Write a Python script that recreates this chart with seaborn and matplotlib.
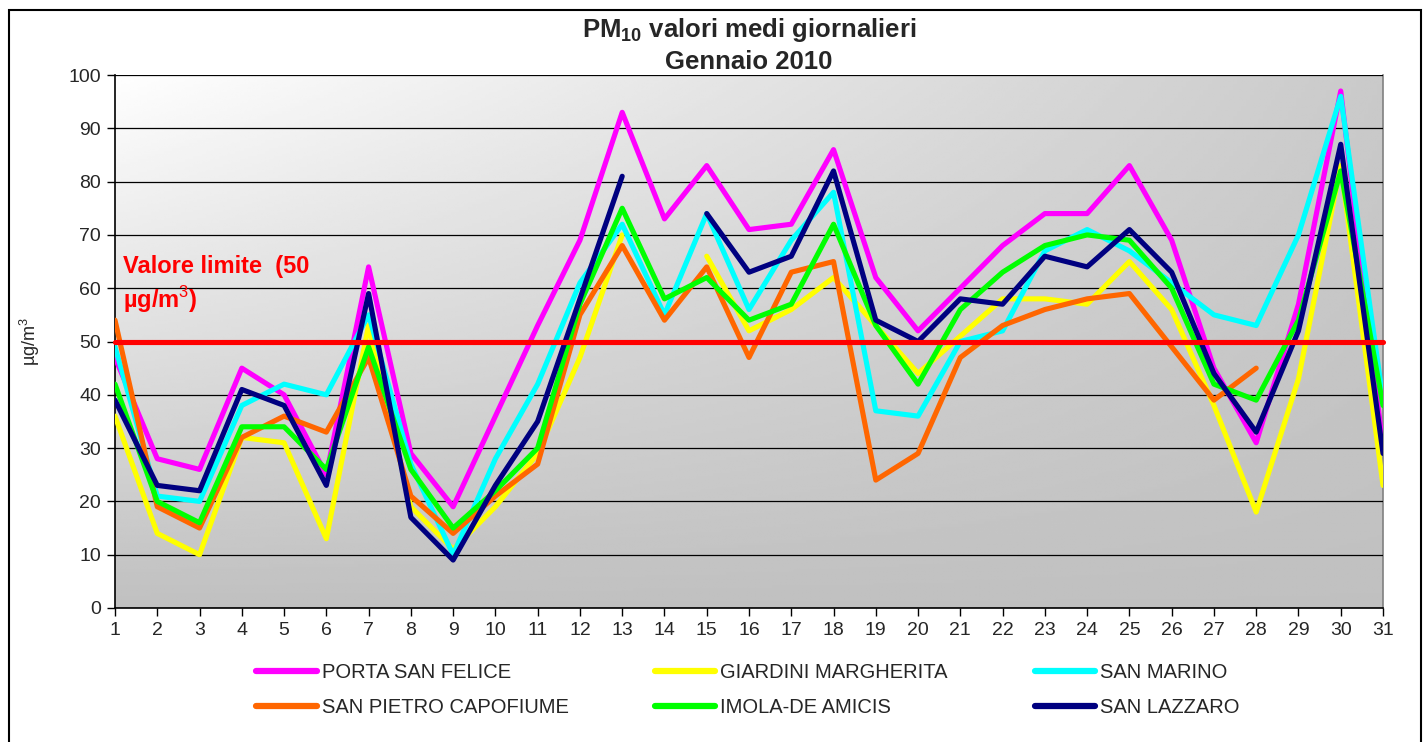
import numpy as np
import pandas as pd
import seaborn as sns
import matplotlib.pyplot as plt
from matplotlib.lines import Line2D
from matplotlib.patches import Rectangle

nan = np.nan

# Giorni di gennaio 2010
days = list(range(1, 32))

# PM10 valori medi giornalieri (ug/m3) per stazione
porta_san_felice = [47, 28, 26, 45, 40, 25, 64, 29, 19, 36, 53, 69, 93, 73, 83, 71,
                    72, 86, 62, 52, 60, 68, 74, 74, 83, 69, 45, 31, 57, 97, 30]
giardini_margherita = [36, 14, 10, 32, 31, 13, 53, 19, 11, 19, 29, 47, 70, nan, 66, 52,
                       56, 62, 53, 44, 51, 58, 58, 57, 65, 56, 38, 18, 43, 83, 23]
san_marino = [49, 21, 20, 38, 42, 40, 55, 27, 10, 28, 42, 61, 72, 55, 74, 56,
              69, 78, 37, 36, 50, 52, 67, 71, 67, 61, 55, 53, 70, 96, 39]
san_pietro_capofiume = [54, 19, 15, 32, 36, 33, 47, 21, 14, 21, 27, 55, 68, 54, 64, 47,
                        63, 65, 24, 29, 47, 53, 56, 58, 59, 49, 39, 45, nan, nan, nan]
imola_de_amicis = [42, 20, 16, 34, 34, 26, 49, 26, 15, 22, 30, 57, 75, 58, 62, 54,
                   57, 72, 53, 42, 56, 63, 68, 70, 69, 60, 42, 39, 54, 82, 38]
san_lazzaro = [39, 23, 22, 41, 38, 23, 59, 17, 9, 23, 35, 58, 81, nan, 74, 63,
               66, 82, 54, 50, 58, 57, 66, 64, 71, 63, 44, 33, 52, 87, 29]

stations = ["PORTA SAN FELICE", "GIARDINI MARGHERITA", "SAN MARINO",
            "SAN PIETRO CAPOFIUME", "IMOLA-DE AMICIS", "SAN LAZZARO"]
series = [porta_san_felice, giardini_margherita, san_marino,
          san_pietro_capofiume, imola_de_amicis, san_lazzaro]
colors = ["#FF00FF", "#FFFF00", "#00FFFF", "#FF6600", "#00FF00", "#000080"]
limit_value = 50

# Build long table, with a segment id so gaps (missing days) break the lines
rows = []
for name, vals in zip(stations, series):
    seg = 0
    for d, v in zip(days, vals):
        if np.isnan(v):
            seg += 1
            continue
        rows.append({"day": d, "value": v, "station": name, "seg": seg})
df = pd.DataFrame(rows)

sns.set_style("white")
plt.rcParams["font.family"] = ["Liberation Sans", "DejaVu Sans"]
plt.rcParams["mathtext.fontset"] = "custom"
plt.rcParams["mathtext.rm"] = "Liberation Sans"
plt.rcParams["mathtext.bf"] = "Liberation Sans:bold"

fig = plt.figure(figsize=(14.26, 7.42), dpi=100)
W, H = 1426, 742
ax = fig.add_axes([115 / W, 1 - 608 / H, (1383 - 115) / W, (608 - 75) / H])

# Gradient background (light top-left to grey bottom-right)
gx, gy = np.meshgrid(np.linspace(0, 1, 300), np.linspace(0, 1, 200))
grad = 0.753 + 0.245 * gy * (1 - 0.85 * gx)
ax.imshow(grad, extent=[1, 31, 0, 100], origin="lower", aspect="auto",
          cmap="gray", vmin=0, vmax=1, zorder=0)

sns.lineplot(data=df, x="day", y="value", hue="station", units="seg",
             estimator=None, sort=False, hue_order=stations,
             palette=dict(zip(stations, colors)), linewidth=3.7,
             legend=False, ax=ax, zorder=3)
for ln in ax.get_lines():
    ln.set_solid_capstyle("round")
    ln.set_solid_joinstyle("round")

ax.axhline(limit_value, color="#FF0000", lw=3.7, zorder=5, clip_on=False)

ax.set_xlim(1, 31)
ax.set_ylim(0, 100)
ax.set_xticks(days)
ax.set_yticks(range(0, 101, 10))
ax.yaxis.grid(True, color="black", lw=0.9)
ax.set_axisbelow(False)
for gl in ax.yaxis.get_gridlines():
    gl.set_zorder(1)
ax.tick_params(axis="both", direction="out", length=6, width=1, color="black",
               labelsize=14, pad=4, left=True, bottom=True)
ax.set_xlabel("")
ax.set_ylabel("")
for s in ["left", "bottom"]:
    ax.spines[s].set_color("black")
    ax.spines[s].set_linewidth(1.2)
ax.spines["top"].set_visible(False)
ax.spines["right"].set_color("#808080")
ax.spines["right"].set_linewidth(1.2)

ax.text(1.2, 66.2, "Valore limite  (50\nµg/m$^3$)", ha="left", va="top",
        fontsize=17, fontweight="bold", color="#FF0000", linespacing=1.25,
        zorder=6)

cx = (115 + 1383) / 2 / W
fig.text(cx, 1 - 30 / H, r"PM$_{\mathbf{10}}$ valori medi giornalieri", ha="center",
         va="center", fontsize=18.5, fontweight="bold")
fig.text(cx, 1 - 62 / H, "Gennaio 2010", ha="center", va="center",
         fontsize=18.5, fontweight="bold")
fig.text(30 / W, 1 - 341 / H, "µg/m$^3$", rotation=90, ha="center",
         va="center", fontsize=13)

# Legend: 2 rows x 3 columns (matplotlib fills column by column)
order = [0, 3, 1, 4, 2, 5]
handles = [Line2D([], [], color=colors[i], lw=4.5) for i in order]
labels = [stations[i] for i in order]
fig.legend(handles, labels, ncol=3, loc="upper left",
           bbox_to_anchor=(238 / W, 1 - 645 / H), frameon=False,
           fontsize=14.5, handlelength=3.0, handletextpad=0.25,
           columnspacing=4.3, labelspacing=0.8)

fig.add_artist(Rectangle((9 / W, -0.01), (1421 - 9) / W, 1.01 - 10 / H,
                         transform=fig.transFigure, fill=False,
                         edgecolor="black", lw=1.5))

fig.savefig("out.png", dpi=100)
